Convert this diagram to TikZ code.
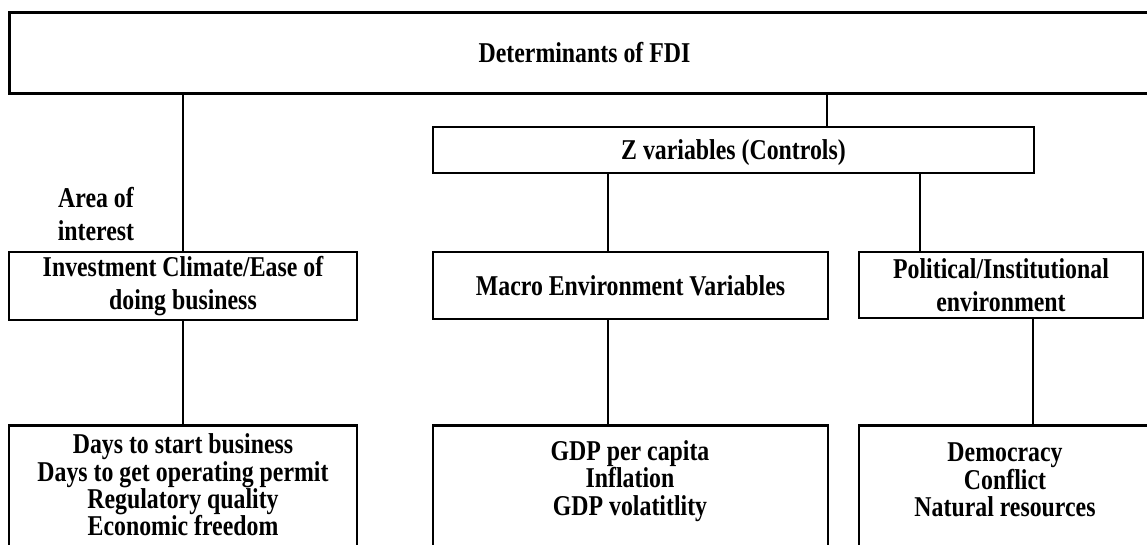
\documentclass[tikz,border=0pt]{standalone}
\usepackage{fontspec}
\setmainfont[FakeStretch=0.83]{Liberation Serif}
\usepackage{tikz}

\tikzset{
  box/.style={draw,line width=2.5pt,inner sep=0pt},
  link/.style={line width=2pt},
  lbl/.style={font=\bfseries\fontsize{28.7}{33}\selectfont,align=center},
  listlbl/.style={font=\bfseries\fontsize{28.7}{27.3}\selectfont,align=center}
}

\begin{document}
\begin{tikzpicture}[x=1pt,y=-1pt]
\useasboundingbox (0,0) rectangle (1147,545);
\clip (0,0) rectangle (1147,545);
%
\node[box,lbl,line width=3pt,minimum width=1151pt,minimum height=81pt] (fdi) at (584.5,53) {Determinants of FDI};
\node[box,line width=2pt,minimum width=601pt,minimum height=46pt,lbl] (zctl) at (733.5,150) {\raisebox{-3pt}[\height][\depth]{Z variables (Controls)}};
%
\node[lbl] (area) at (96,214) {Area of\\interest};
\node[box,lbl,minimum width=348pt,minimum height=68pt] (inv) at (183,286) {Investment Climate/Ease of\\doing business};
\node[box,lbl,minimum width=395pt,minimum height=67pt] (macro) at (630.5,285.5) {Macro Environment Variables};
\node[box,lbl,minimum width=284pt,minimum height=66pt] (pol) at (1001,285) {Political/Institutional\\environment};
%
\node[box,anchor=north,minimum width=348pt,minimum height=200pt] (days) at (183,424) {};
\node[listlbl] (dayslbl) at (183,485) {Days to start business\\Days to get operating permit\\Regulatory quality\\Economic freedom};
\node[box,anchor=north,minimum width=395pt,minimum height=200pt] (gdp) at (630.5,424) {};
\node[listlbl] (gdplbl) at (630,481) {GDP per capita\\Inflation\\GDP volatitlity};
\node[box,anchor=north,minimum width=301pt,minimum height=200pt] (demo) at (1009.5,424) {};
\node[listlbl] (demolbl) at (1005,480) {Democracy\\Conflict\\Natural resources};
%
\coordinate (zin) at (827,127);
\coordinate (zm) at (608,173);
\coordinate (zp) at (920,173);
\coordinate (pd) at (1033,318);
\draw[link] (fdi.south -| inv.north) -- (inv.north);
\draw[link] (fdi.south -| zin) -- (zctl.north -| zin);
\draw[link] (zctl.south -| zm) -- (macro.north -| zm);
\draw[link] (zctl.south -| zp) -- (pol.north -| zp);
\draw[link] (inv.south) -- (days.north);
\draw[link] (macro.south -| zm) -- (gdp.north -| zm);
\draw[link] (pol.south -| pd) -- (demo.north -| pd);
\end{tikzpicture}
\end{document}
